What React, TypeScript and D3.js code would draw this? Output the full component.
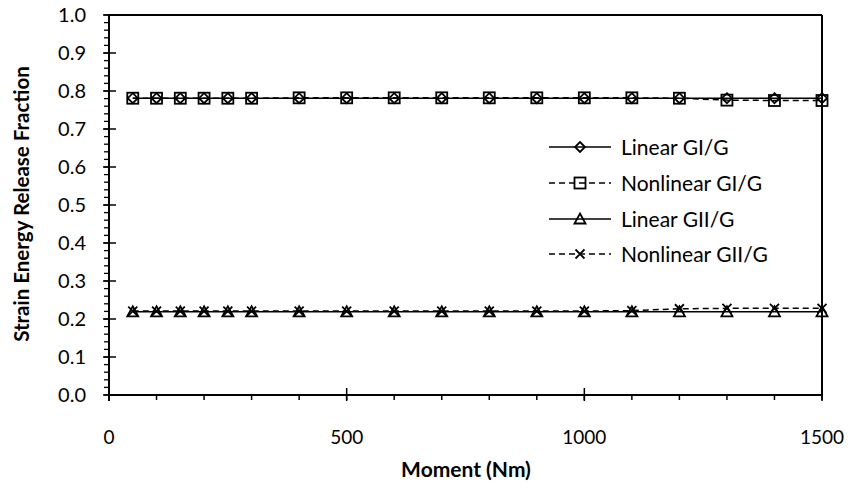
import { useEffect, useRef } from 'react'
import * as d3 from 'd3'

const moments = [50, 100, 150, 200, 250, 300, 400, 500, 600, 700, 800, 900, 1000, 1100, 1200, 1300, 1400, 1500]
const linearGI = [0.781, 0.781, 0.781, 0.781, 0.781, 0.781, 0.781, 0.781, 0.781, 0.781, 0.781, 0.781, 0.781, 0.781, 0.781, 0.781, 0.781, 0.781]
const nonlinearGI = [0.781, 0.781, 0.781, 0.781, 0.781, 0.781, 0.782, 0.782, 0.782, 0.782, 0.782, 0.782, 0.782, 0.782, 0.781, 0.776, 0.775, 0.775]
const linearGII = [0.219, 0.219, 0.219, 0.219, 0.219, 0.219, 0.219, 0.219, 0.219, 0.219, 0.219, 0.219, 0.219, 0.219, 0.219, 0.219, 0.219, 0.219]
const nonlinearGII = [0.221, 0.221, 0.221, 0.221, 0.221, 0.221, 0.221, 0.221, 0.221, 0.221, 0.221, 0.221, 0.221, 0.222, 0.227, 0.228, 0.228, 0.228]
const seriesNames = ['Linear GI/G', 'Nonlinear GI/G', 'Linear GII/G', 'Nonlinear GII/G']
const xTicks = [0, 500, 1000, 1500]
const yTicks = [0, 0.1, 0.2, 0.3, 0.4, 0.5, 0.6, 0.7, 0.8, 0.9, 1.0]

const FONT = 'Lato, "Open Sans", sans-serif'

function drawMarker(g: any, kind: string, cx: number, cy: number) {
  const s = g.append('g').attr('fill', 'none').attr('stroke', '#000').attr('stroke-width', 1.8)
  if (kind === 'diamond') {
    s.append('path').attr('d', `M${cx},${cy - 5}L${cx + 5},${cy}L${cx},${cy + 5}L${cx - 5},${cy}Z`)
  } else if (kind === 'square') {
    s.append('rect').attr('x', cx - 5.5).attr('y', cy - 5.5).attr('width', 11).attr('height', 11)
  } else if (kind === 'triangle') {
    s.append('path').attr('d', `M${cx},${cy - 5.5}L${cx + 5.5},${cy + 4.5}L${cx - 5.5},${cy + 4.5}Z`)
  } else {
    s.append('path').attr('d', `M${cx - 4.5},${cy - 4.5}L${cx + 4.5},${cy + 4.5}M${cx + 4.5},${cy - 4.5}L${cx - 4.5},${cy + 4.5}`)
  }
}

function StrainChart() {
  const svgRef = useRef<SVGSVGElement>(null)

  useEffect(() => {
    const width = 852
    const height = 501
    const left = 109, right = 822, top = 15, bottom = 395

    const svg = d3.select(svgRef.current)
    svg.selectAll('*').remove()
    svg.attr('width', width).attr('height', height)

    svg.append('rect').attr('width', width).attr('height', height).attr('fill', '#fff')

    const x = d3.scaleLinear().domain([0, 1500]).range([left, right])
    const y = d3.scaleLinear().domain([0, 1]).range([bottom, top])

    const series = [
      { name: seriesNames[0], values: linearGI, marker: 'diamond', dash: null },
      { name: seriesNames[1], values: nonlinearGI, marker: 'square', dash: '6,4' },
      { name: seriesNames[2], values: linearGII, marker: 'triangle', dash: null },
      { name: seriesNames[3], values: nonlinearGII, marker: 'cross', dash: '6,4' },
    ]

    const line = d3.line<number>()
      .x((_, i) => x(moments[i]))
      .y(d => y(d))

    // lines
    series.forEach(s => {
      svg.append('path')
        .attr('d', line(s.values))
        .attr('fill', 'none')
        .attr('stroke', '#000')
        .attr('stroke-width', 1.5)
        .attr('stroke-dasharray', s.dash)
    })
    // markers
    series.forEach(s => {
      s.values.forEach((v, i) => drawMarker(svg, s.marker, x(moments[i]), y(v)))
    })

    // frame
    const axisStroke = 2
    svg.append('line').attr('x1', left).attr('x2', right).attr('y1', top).attr('y2', top)
      .attr('stroke', '#000').attr('stroke-width', axisStroke)
    svg.append('line').attr('x1', right).attr('x2', right).attr('y1', top).attr('y2', bottom)
      .attr('stroke', '#000').attr('stroke-width', axisStroke)

    // x axis
    const xMinor = d3.range(0, 1501, 100)
    svg.append('line').attr('x1', left).attr('x2', right + 1).attr('y1', bottom).attr('y2', bottom)
      .attr('stroke', '#000').attr('stroke-width', axisStroke)
    xMinor.forEach(t => {
      svg.append('line').attr('x1', x(t)).attr('x2', x(t)).attr('y1', bottom).attr('y2', bottom + 5)
        .attr('stroke', '#000').attr('stroke-width', 1.5)
    })
    xTicks.forEach(t => {
      svg.append('line').attr('x1', x(t)).attr('x2', x(t)).attr('y1', bottom - 7).attr('y2', bottom + 6)
        .attr('stroke', '#000').attr('stroke-width', 1.5)
      svg.append('text').attr('x', x(t)).attr('y', 444)
        .attr('text-anchor', 'middle').attr('font-family', FONT).attr('font-size', 19)
        .attr('fill', '#000').text(d3.format('d')(t))
    })

    // y axis
    const yMinor = d3.range(0, 51).map(i => i / 50)
    svg.append('line').attr('x1', left).attr('x2', left).attr('y1', top - 1).attr('y2', bottom + 6)
      .attr('stroke', '#000').attr('stroke-width', axisStroke)
    yMinor.forEach(t => {
      svg.append('line').attr('x1', left - 5).attr('x2', left).attr('y1', y(t)).attr('y2', y(t))
        .attr('stroke', '#000').attr('stroke-width', 1.3)
    })
    yTicks.forEach(t => {
      svg.append('line').attr('x1', left - 6).attr('x2', left + 7).attr('y1', y(t)).attr('y2', y(t))
        .attr('stroke', '#000').attr('stroke-width', 1.5)
      svg.append('text').attr('x', 86).attr('y', y(t) + 7)
        .attr('text-anchor', 'end').attr('font-family', FONT).attr('font-size', 20)
        .attr('fill', '#000').text(d3.format('.1f')(t))
    })

    // axis titles
    svg.append('text').attr('x', 466).attr('y', 477)
      .attr('text-anchor', 'middle').attr('font-family', FONT).attr('font-weight', 'bold')
      .attr('font-size', 21).attr('fill', '#000').text('Moment (Nm)')
    svg.append('text').attr('transform', `translate(29, 204) rotate(-90)`)
      .attr('text-anchor', 'middle').attr('font-family', FONT).attr('font-weight', 'bold')
      .attr('font-size', 20.5).attr('fill', '#000').text('Strain Energy Release Fraction')

    // legend
    const legendRows = [147, 183, 219, 254]
    series.forEach((s, i) => {
      const ly = legendRows[i]
      svg.append('line').attr('x1', 549).attr('x2', 611).attr('y1', ly).attr('y2', ly)
        .attr('stroke', '#000').attr('stroke-width', 1.5).attr('stroke-dasharray', s.dash)
      drawMarker(svg, s.marker, 580, ly)
      svg.append('text').attr('x', 621).attr('y', ly + 7.5)
        .attr('font-family', FONT).attr('font-size', 21).attr('fill', '#000').text(s.name)
    })
  }, [])

  return <svg ref={svgRef} style={{ position: 'absolute', left: 0, top: 0, display: 'block' }} />
}

export default function App() {
  return <StrainChart />
}
